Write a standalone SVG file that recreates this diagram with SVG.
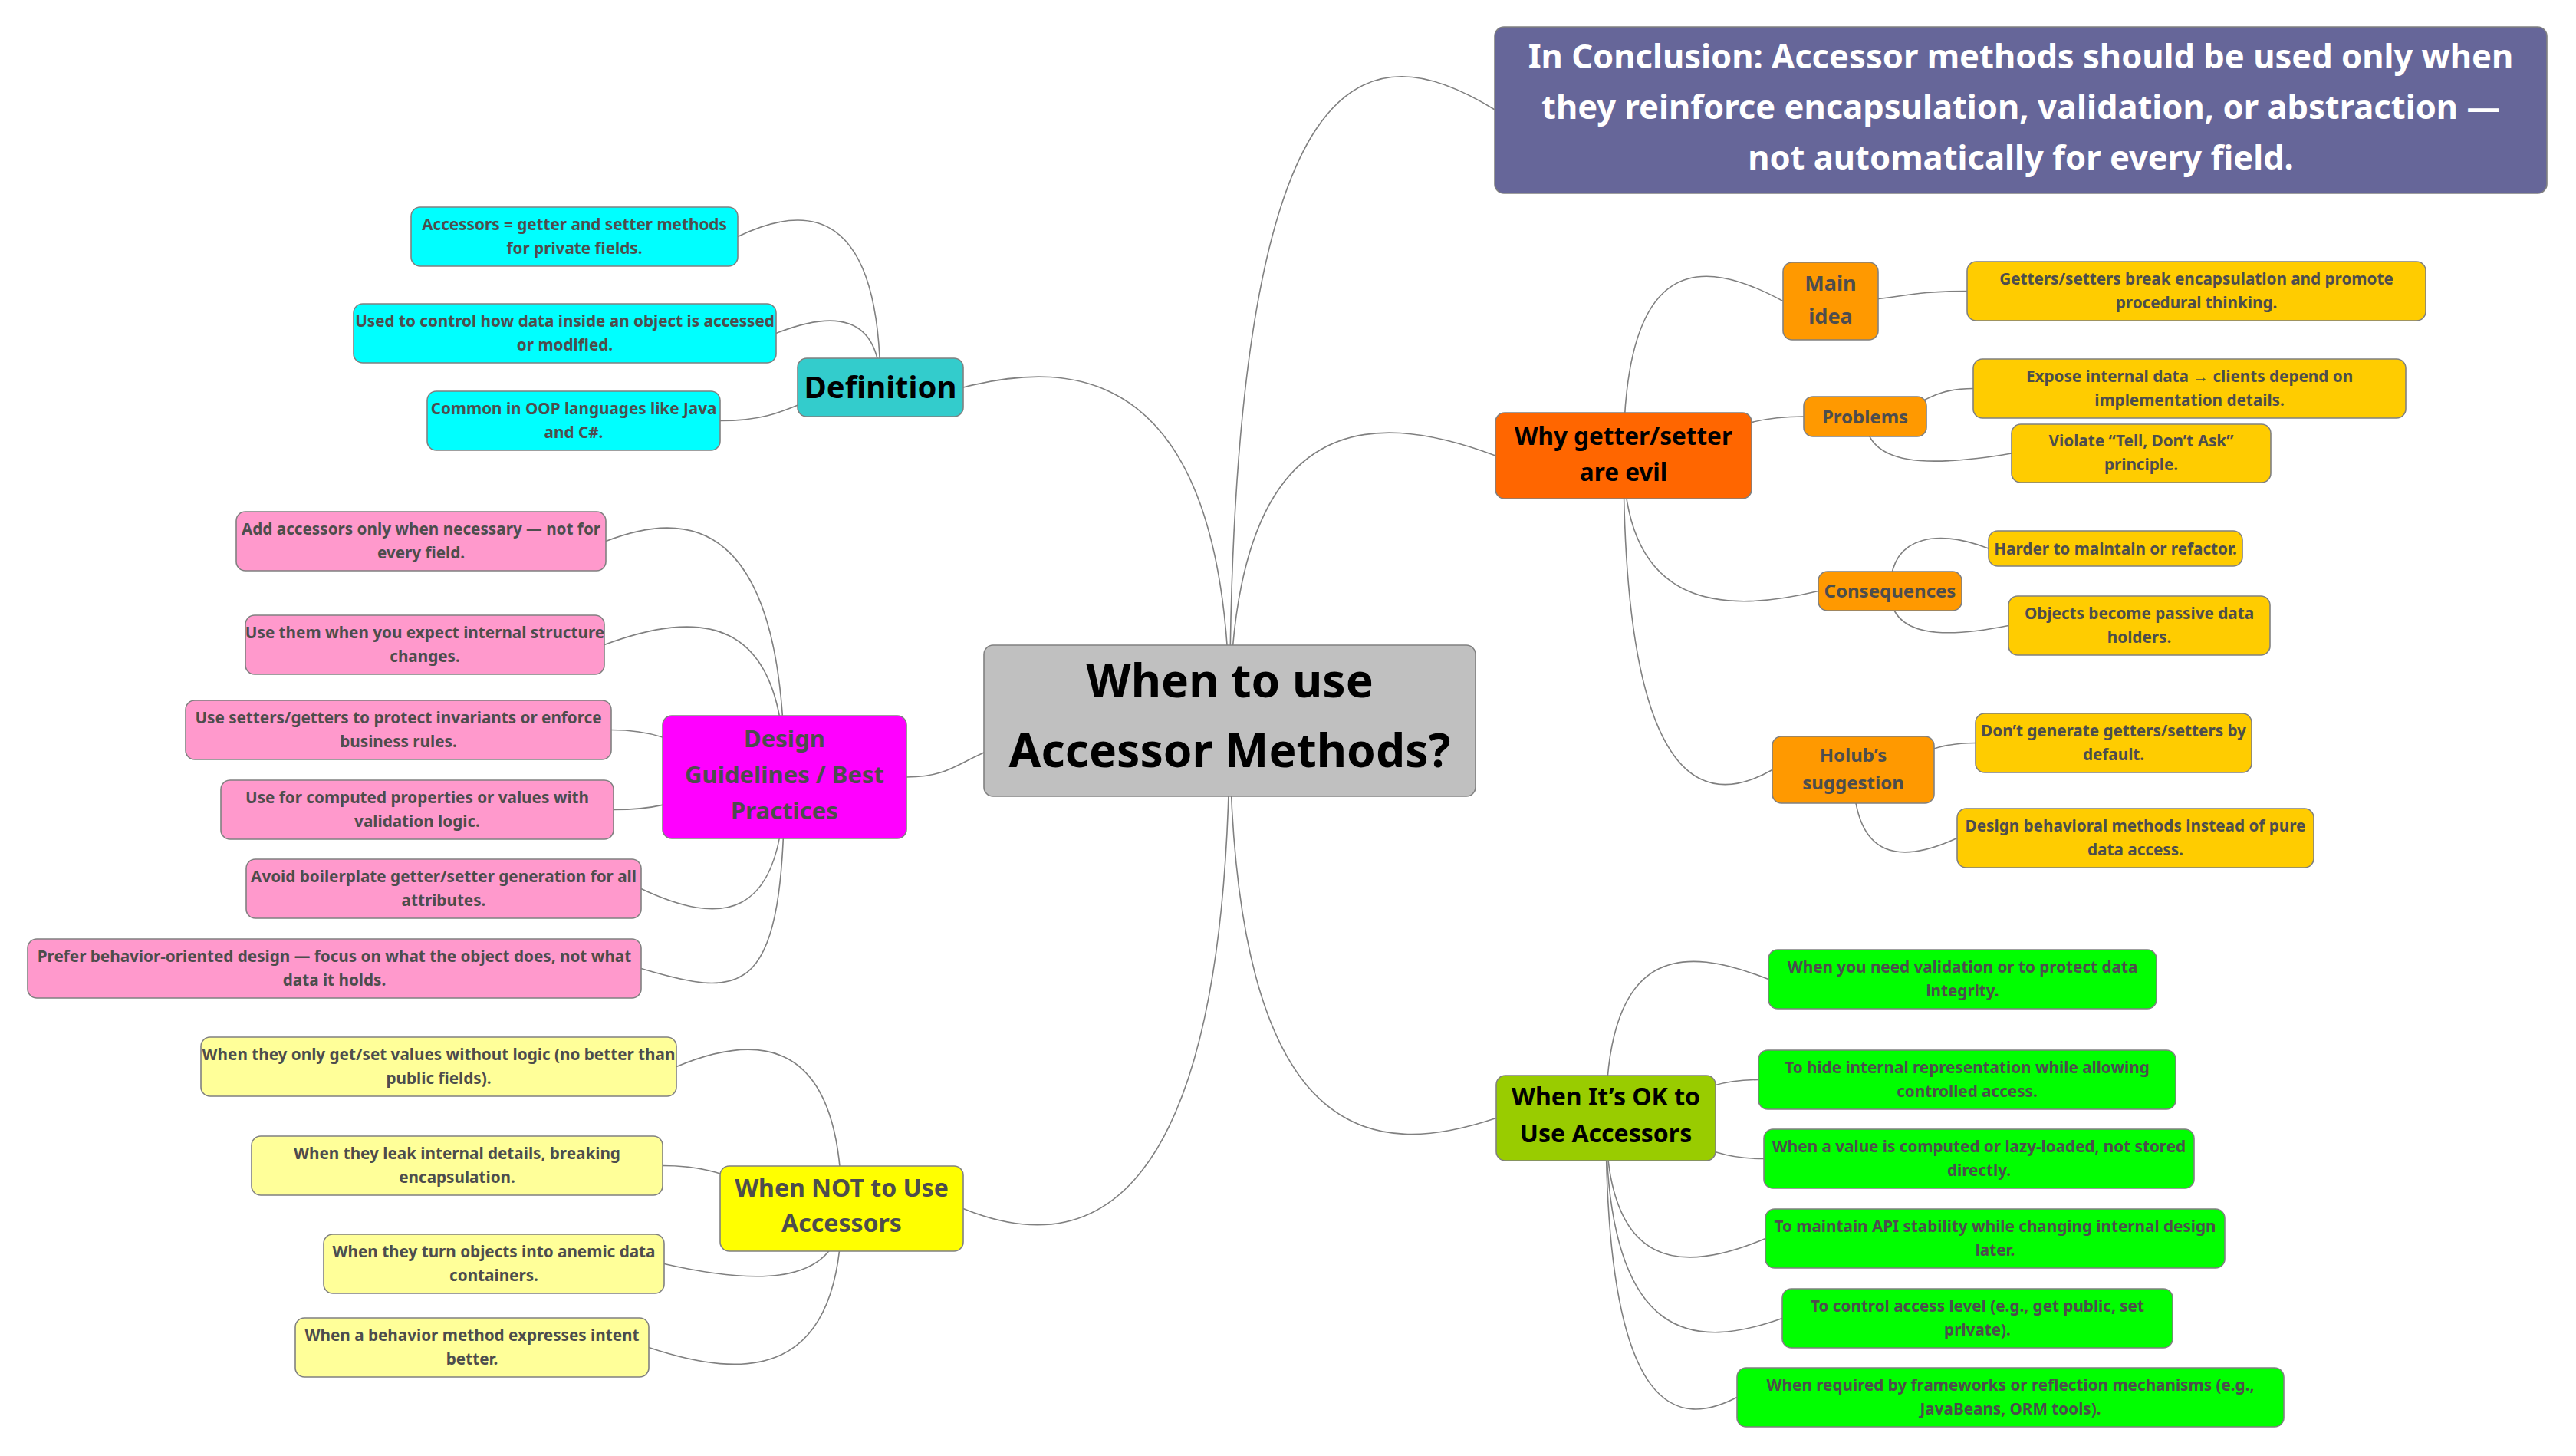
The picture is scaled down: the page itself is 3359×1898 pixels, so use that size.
<svg xmlns="http://www.w3.org/2000/svg" width="3359" height="1898" viewBox="0 0 3359 1898">
<style>
text{font-family:"Noto Sans","Open Sans",sans-serif;font-weight:700;text-anchor:middle}
.n rect{stroke:#808080;stroke-width:1.6}
.lf{font-size:20.7px;fill:#4d4d4d}
.g{fill:#4d4d4d}
.k{fill:#000}
#connectors path{fill:none;stroke:#808080;stroke-width:1.6}
</style>
<rect width="3359" height="1898" fill="#fff"/>
<g id="connectors">
<path d="M1603.5,940 C1603.5,43.5 1789,43.5 1950,143.5"/>
<path d="M1603.5,940 C1603.5,532 1784,532 1950,594"/>
<path d="M1603.5,940 C1603.5,469 1396,469 1256,505"/>
<path d="M1603.5,940 C1603.5,1509 1797,1509 1951,1457.5"/>
<path d="M1603.5,940 C1603.5,1630 1390,1630 1256,1575.5"/>
<path d="M1603.5,940 C1230,940 1290,1013 1182,1013"/>
<path d="M1148,505 C1148,266 1050,266 962,308.5"/>
<path d="M1148,505 C1148,406 1084,406 1012,434.5"/>
<path d="M1148,505 C1043.5,505 1043.5,548.5 939,548.5"/>
<path d="M2117,594 C2117,333 2215,333 2325,392.5"/>
<path d="M2117,594 C2234.5,594 2234.5,543 2352,543"/>
<path d="M2117,594 C2117,799 2253,799 2371,770.5"/>
<path d="M2117,594 C2117,1049 2231,1049 2311,1003.5"/>
<path d="M2387,392.5 C2476,392.5 2476,379.5 2565,379.5"/>
<path d="M2432,543 C2502.5,543 2502.5,506.5 2573,506.5"/>
<path d="M2432,543 C2432,609 2516,609 2623,591"/>
<path d="M2464.5,770.5 C2464.5,692 2533,692 2593,715"/>
<path d="M2464.5,770.5 C2464.5,832 2537,832 2619,815.5"/>
<path d="M2416.5,1003.5 C2496,1003.5 2496,968.5 2576,968.5"/>
<path d="M2416.5,1003.5 C2416.5,1125 2481,1125 2552,1092.5"/>
<path d="M1023,1013 C1023,666 892,666 790,705.5"/>
<path d="M1023,1013 C1023,796 909,796 788,840.5"/>
<path d="M1023,1013 C910,1013 910,951.5 797,951.5"/>
<path d="M1023,1013 C911.5,1013 911.5,1055.5 800,1055.5"/>
<path d="M1023,1013 C1023,1206 937,1206 836,1158.5"/>
<path d="M1023,1013 C1023,1303 972,1303 836,1262.5"/>
<path d="M1097.5,1575.5 C1097.5,1347 986,1347 882,1390.5"/>
<path d="M1097.5,1575.5 C981,1575.5 981,1519.5 864,1519.5"/>
<path d="M1097.5,1575.5 C1097.5,1676 991,1676 866,1647.5"/>
<path d="M1097.5,1575.5 C1097.5,1799 973,1799 846,1756.5"/>
<path d="M2094,1457.5 C2094,1232 2193,1232 2306,1276.5"/>
<path d="M2094,1457.5 C2193.5,1457.5 2193.5,1407.5 2293,1407.5"/>
<path d="M2094,1457.5 C2197,1457.5 2197,1510.5 2300,1510.5"/>
<path d="M2094,1457.5 C2094,1660 2195,1660 2302,1614.5"/>
<path d="M2094,1457.5 C2094,1758 2213,1758 2324,1718.5"/>
<path d="M2094,1457.5 C2094,1859 2192,1859 2265,1821.5"/>
</g>

<g id="root" class="n"><rect x="1283" y="841" width="641" height="197" rx="12" fill="#c0c0c0"/>
<text class="k" font-size="60.5"><tspan x="1603.5" y="909">When to use</tspan><tspan x="1603.5" y="1000">Accessor Methods?</tspan></text></g>

<g id="conclusion" class="n"><rect x="1949" y="35" width="1372" height="217" rx="12" fill="#666699"/>
<text font-size="43.5" fill="#fff"><tspan x="2635" y="89">In Conclusion: Accessor methods should be used only when</tspan><tspan x="2635" y="155">they reinforce encapsulation, validation, or abstraction —</tspan><tspan x="2635" y="221">not automatically for every field.</tspan></text></g>

<g id="definition" class="n"><rect x="1040" y="467" width="216" height="76" rx="12" fill="#33cccc"/>
<text class="k" font-size="40" x="1148" y="519">Definition</text></g>
<g id="def-1" class="n"><rect x="536" y="270" width="426" height="77" rx="12" fill="#00ffff"/>
<text class="lf"><tspan x="749" y="299.5">Accessors = getter and setter methods</tspan><tspan x="749" y="330.5">for private fields.</tspan></text></g>
<g id="def-2" class="n"><rect x="461" y="396" width="551" height="77" rx="12" fill="#00ffff"/>
<text class="lf"><tspan x="736.5" y="425.5">Used to control how data inside an object is accessed</tspan><tspan x="736.5" y="456.5">or modified.</tspan></text></g>
<g id="def-3" class="n"><rect x="557" y="510" width="382" height="77" rx="12" fill="#00ffff"/>
<text class="lf"><tspan x="748" y="539.5">Common in OOP languages like Java</tspan><tspan x="748" y="570.5">and C#.</tspan></text></g>

<g id="why" class="n"><rect x="1950" y="538" width="334" height="112" rx="12" fill="#ff6600"/>
<text class="k" font-size="31.5"><tspan x="2117" y="580">Why getter/setter</tspan><tspan x="2117" y="627">are evil</tspan></text></g>
<g id="main-idea" class="n"><rect x="2325" y="342" width="124" height="101" rx="12" fill="#ff9900"/>
<text class="g" font-size="27"><tspan x="2387" y="379">Main</tspan><tspan x="2387" y="422">idea</tspan></text></g>
<g id="main-idea-1" class="n"><rect x="2565" y="341" width="598" height="77" rx="12" fill="#ffcc00"/>
<text class="lf"><tspan x="2864" y="370.5">Getters/setters break encapsulation and promote</tspan><tspan x="2864" y="401.5">procedural thinking.</tspan></text></g>
<g id="problems" class="n"><rect x="2352" y="517" width="160" height="52" rx="12" fill="#ff9900"/>
<text class="g" font-size="24" x="2432" y="551.5">Problems</text></g>
<g id="problems-1" class="n"><rect x="2573" y="468" width="564" height="77" rx="12" fill="#ffcc00"/>
<text class="lf"><tspan x="2855" y="497.5">Expose internal data → clients depend on</tspan><tspan x="2855" y="528.5">implementation details.</tspan></text></g>
<g id="problems-2" class="n"><rect x="2623" y="553" width="338" height="76" rx="12" fill="#ffcc00"/>
<text class="lf"><tspan x="2792" y="582">Violate “Tell, Don’t Ask”</tspan><tspan x="2792" y="613">principle.</tspan></text></g>
<g id="consequences" class="n"><rect x="2371" y="745" width="187" height="51" rx="12" fill="#ff9900"/>
<text class="g" font-size="24" x="2464.5" y="779">Consequences</text></g>
<g id="consequences-1" class="n"><rect x="2593" y="692" width="331" height="46" rx="12" fill="#ffcc00"/>
<text class="lf" x="2758.5" y="722.5">Harder to maintain or refactor.</text></g>
<g id="consequences-2" class="n"><rect x="2619" y="777" width="341" height="77" rx="12" fill="#ffcc00"/>
<text class="lf"><tspan x="2789.5" y="806.5">Objects become passive data</tspan><tspan x="2789.5" y="837.5">holders.</tspan></text></g>
<g id="holub" class="n"><rect x="2311" y="960" width="211" height="87" rx="12" fill="#ff9900"/>
<text class="g" font-size="24"><tspan x="2416.5" y="993">Holub’s</tspan><tspan x="2416.5" y="1029">suggestion</tspan></text></g>
<g id="holub-1" class="n"><rect x="2576" y="930" width="360" height="77" rx="12" fill="#ffcc00"/>
<text class="lf"><tspan x="2756" y="959.5">Don’t generate getters/setters by</tspan><tspan x="2756" y="990.5">default.</tspan></text></g>
<g id="holub-2" class="n"><rect x="2552" y="1054" width="465" height="77" rx="12" fill="#ffcc00"/>
<text class="lf"><tspan x="2784.5" y="1083.5">Design behavioral methods instead of pure</tspan><tspan x="2784.5" y="1114.5">data access.</tspan></text></g>

<g id="design" class="n"><rect x="864" y="933" width="318" height="160" rx="12" fill="#ff00ff"/>
<text class="g" font-size="31"><tspan x="1023" y="974">Design</tspan><tspan x="1023" y="1021">Guidelines / Best</tspan><tspan x="1023" y="1068">Practices</tspan></text></g>
<g id="design-1" class="n"><rect x="308" y="667" width="482" height="77" rx="12" fill="#ff99cc"/>
<text class="lf"><tspan x="549" y="696.5">Add accessors only when necessary — not for</tspan><tspan x="549" y="727.5">every field.</tspan></text></g>
<g id="design-2" class="n"><rect x="320" y="802" width="468" height="77" rx="12" fill="#ff99cc"/>
<text class="lf"><tspan x="554" y="831.5">Use them when you expect internal structure</tspan><tspan x="554" y="862.5">changes.</tspan></text></g>
<g id="design-3" class="n"><rect x="242" y="913" width="555" height="77" rx="12" fill="#ff99cc"/>
<text class="lf"><tspan x="519.5" y="942.5">Use setters/getters to protect invariants or enforce</tspan><tspan x="519.5" y="973.5">business rules.</tspan></text></g>
<g id="design-4" class="n"><rect x="288" y="1017" width="512" height="77" rx="12" fill="#ff99cc"/>
<text class="lf"><tspan x="544" y="1046.5">Use for computed properties or values with</tspan><tspan x="544" y="1077.5">validation logic.</tspan></text></g>
<g id="design-5" class="n"><rect x="321" y="1120" width="515" height="77" rx="12" fill="#ff99cc"/>
<text class="lf"><tspan x="578.5" y="1149.5">Avoid boilerplate getter/setter generation for all</tspan><tspan x="578.5" y="1180.5">attributes.</tspan></text></g>
<g id="design-6" class="n"><rect x="36" y="1224" width="800" height="77" rx="12" fill="#ff99cc"/>
<text class="lf"><tspan x="436" y="1253.5">Prefer behavior-oriented design — focus on what the object does, not what</tspan><tspan x="436" y="1284.5">data it holds.</tspan></text></g>

<g id="when-not" class="n"><rect x="939" y="1520" width="317" height="111" rx="12" fill="#ffff00"/>
<text class="g" font-size="32"><tspan x="1097.5" y="1560">When NOT to Use</tspan><tspan x="1097.5" y="1606">Accessors</tspan></text></g>
<g id="when-not-1" class="n"><rect x="262" y="1352" width="620" height="77" rx="12" fill="#ffff99"/>
<text class="lf"><tspan x="572" y="1381.5">When they only get/set values without logic (no better than</tspan><tspan x="572" y="1412.5">public fields).</tspan></text></g>
<g id="when-not-2" class="n"><rect x="328" y="1481" width="536" height="77" rx="12" fill="#ffff99"/>
<text class="lf"><tspan x="596" y="1510.5">When they leak internal details, breaking</tspan><tspan x="596" y="1541.5">encapsulation.</tspan></text></g>
<g id="when-not-3" class="n"><rect x="422" y="1609" width="444" height="77" rx="12" fill="#ffff99"/>
<text class="lf"><tspan x="644" y="1638.5">When they turn objects into anemic data</tspan><tspan x="644" y="1669.5">containers.</tspan></text></g>
<g id="when-not-4" class="n"><rect x="385" y="1718" width="461" height="77" rx="12" fill="#ffff99"/>
<text class="lf"><tspan x="615.5" y="1747.5">When a behavior method expresses intent</tspan><tspan x="615.5" y="1778.5">better.</tspan></text></g>

<g id="when-ok" class="n"><rect x="1951" y="1402" width="286" height="111" rx="12" fill="#99cc00"/>
<text class="k" font-size="32"><tspan x="2094" y="1441">When It’s OK to</tspan><tspan x="2094" y="1489">Use Accessors</tspan></text></g>
<g id="when-ok-1" class="n"><rect x="2306" y="1238" width="506" height="77" rx="12" fill="#00ff00"/>
<text class="lf"><tspan x="2559" y="1267.5">When you need validation or to protect data</tspan><tspan x="2559" y="1298.5">integrity.</tspan></text></g>
<g id="when-ok-2" class="n"><rect x="2293" y="1369" width="544" height="77" rx="12" fill="#00ff00"/>
<text class="lf"><tspan x="2565" y="1398.5">To hide internal representation while allowing</tspan><tspan x="2565" y="1429.5">controlled access.</tspan></text></g>
<g id="when-ok-3" class="n"><rect x="2300" y="1472" width="561" height="77" rx="12" fill="#00ff00"/>
<text class="lf"><tspan x="2580.5" y="1501.5">When a value is computed or lazy-loaded, not stored</tspan><tspan x="2580.5" y="1532.5">directly.</tspan></text></g>
<g id="when-ok-4" class="n"><rect x="2302" y="1576" width="599" height="77" rx="12" fill="#00ff00"/>
<text class="lf"><tspan x="2601.5" y="1605.5">To maintain API stability while changing internal design</tspan><tspan x="2601.5" y="1636.5">later.</tspan></text></g>
<g id="when-ok-5" class="n"><rect x="2324" y="1680" width="509" height="77" rx="12" fill="#00ff00"/>
<text class="lf"><tspan x="2578.5" y="1709.5">To control access level (e.g., get public, set</tspan><tspan x="2578.5" y="1740.5">private).</tspan></text></g>
<g id="when-ok-6" class="n"><rect x="2265" y="1783" width="713" height="77" rx="12" fill="#00ff00"/>
<text class="lf"><tspan x="2621.5" y="1812.5">When required by frameworks or reflection mechanisms (e.g.,</tspan><tspan x="2621.5" y="1843.5">JavaBeans, ORM tools).</tspan></text></g>
</svg>
